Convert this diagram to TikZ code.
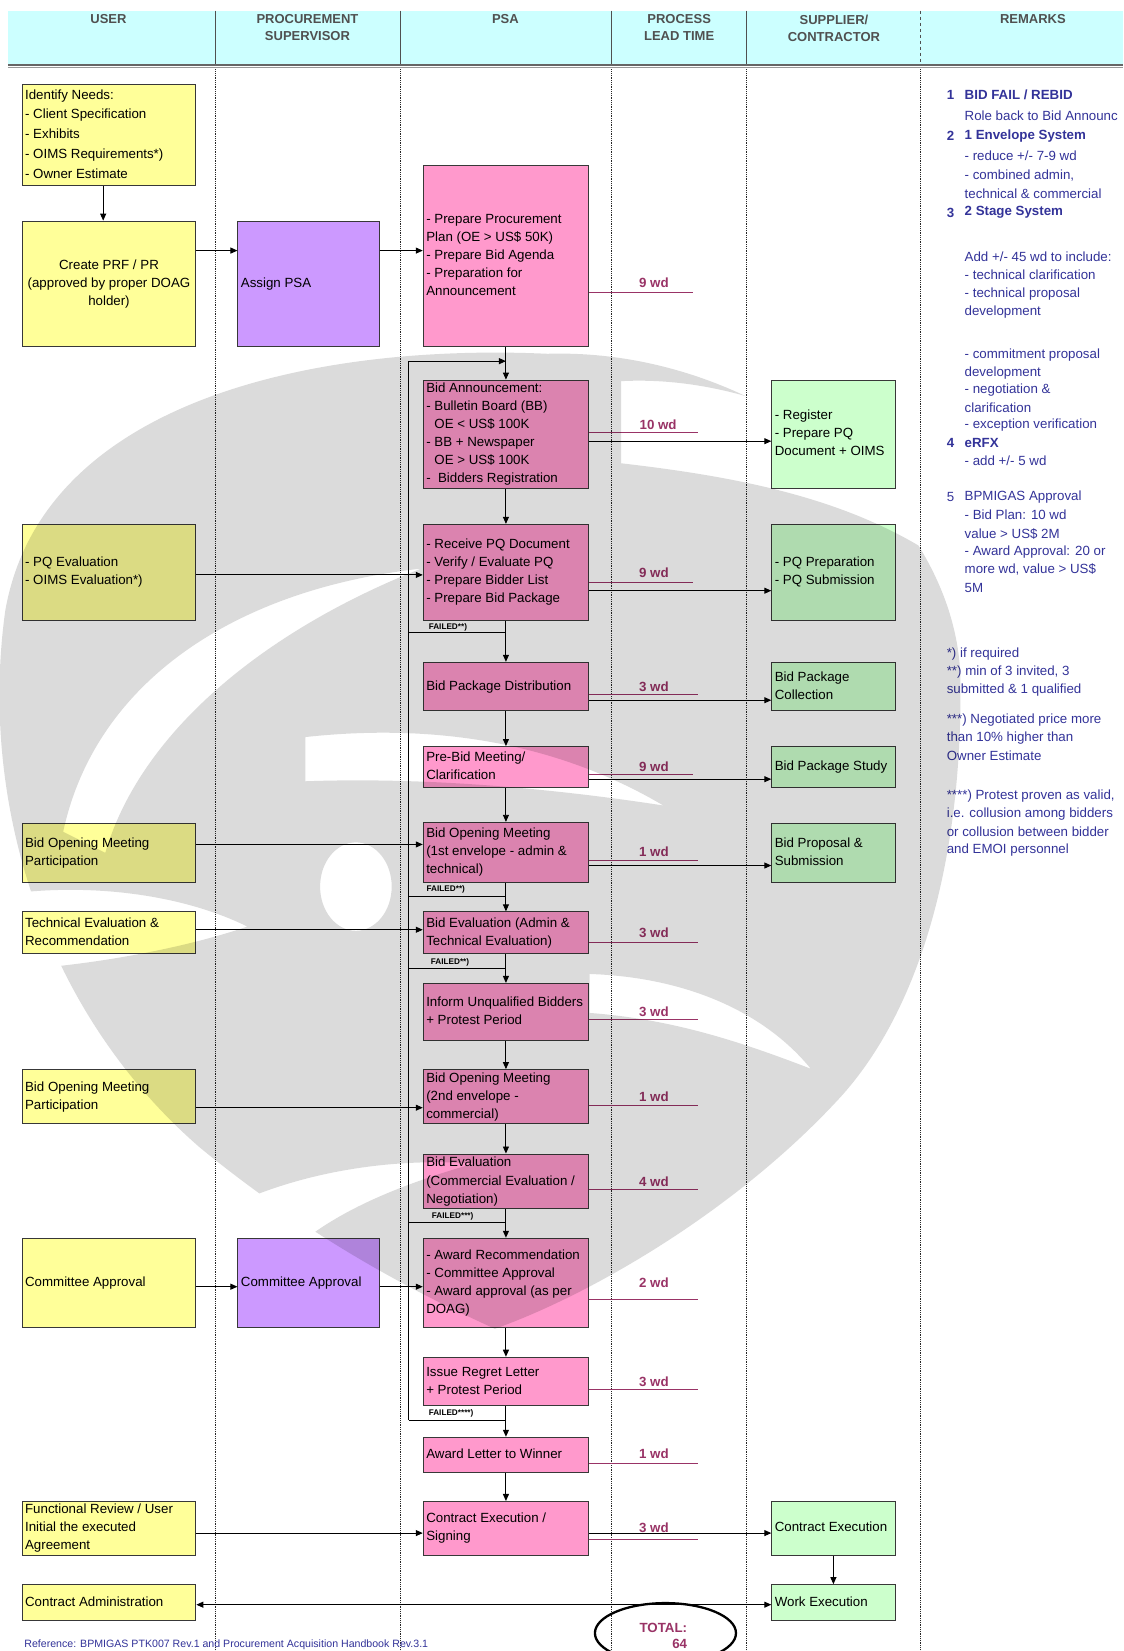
\documentclass[tikz,border=0pt]{standalone}
\usepackage{fontspec}
\setmainfont{Liberation Sans}
\usetikzlibrary{arrows.meta,calc,shapes.geometric}

\definecolor{hdrcyan}{HTML}{CCFFFF}
\definecolor{useryel}{HTML}{FFFF99}
\definecolor{suppurp}{HTML}{CC99FF}
\definecolor{psapink}{HTML}{FF99CC}
\definecolor{vendgrn}{HTML}{CCFFCC}
\definecolor{leadmag}{HTML}{993366}
\definecolor{remblue}{HTML}{333399}
\definecolor{hdrgrey}{HTML}{505050}
\definecolor{boxline}{HTML}{383838}

% \flowbox{name}{x1}{y1}{x2}{y2}{style}{l|c}{lines}
\newcommand\flowbox[8]{%
  \pgfmathsetmacro\flbw{(#4-#2)*1.0525}%
  \pgfmathsetmacro\flbh{(#5-#3)*1.0525}%
  \pgfmathsetmacro\fltw{(#4-#2)*1.0525-6}%
  \node[#6,minimum width=\flbw pt,minimum height=\flbh pt] (#1) at ({(#2+#4)/2},{(#3+#5)/2})
    {\makebox[\fltw pt][#7]{\begin{tabular}{@{}#7@{}}#8\end{tabular}}};}

\begin{document}
\begin{tikzpicture}[x=1.0525pt,y=-1.0525pt,
  boxbase/.style={draw=boxline,line width=1pt,inner xsep=3pt,inner ysep=0pt,
    font=\fontsize{13.3}{18}\selectfont},
  userbox/.style={boxbase,fill=useryel},
  supbox/.style={boxbase,fill=suppurp},
  psabox/.style={boxbase,fill=psapink},
  vendbox/.style={boxbase,fill=vendgrn},
  arr/.style={draw=black,line width=0.9pt,-{Triangle[length=7pt,width=6pt]}},
  dblarr/.style={draw=black,line width=0.9pt,{Triangle[length=7pt,width=6pt]}-{Triangle[length=7pt,width=6pt]}},
  loopline/.style={draw=black,line width=0.9pt},
  lead/.style={draw=leadmag,line width=1pt},
  leadlbl/.style={text=leadmag,font=\fontsize{13.3}{16}\selectfont\bfseries,inner sep=0pt},
  failtag/.style={font=\fontsize{8.2}{9}\selectfont\bfseries,inner sep=0pt,anchor=west},
  remark/.style={text=remblue,font=\fontsize{13.3}{16}\selectfont,inner sep=0pt,anchor=west},
  lane/.style={draw=black!85,line width=0.8pt,densely dotted},
  hdr/.style={text=hdrgrey,font=\fontsize{13}{17}\selectfont\bfseries,align=center,inner sep=0pt},
  emblem/.style={fill=black,fill opacity=0.14,even odd rule}
]
% page
\useasboundingbox (0,0) rectangle (1067,1568);
\fill[white] (0,0) rectangle (1067,1568);

% ---------- header band ----------
\fill[hdrcyan] (8,10) rectangle (1067,61);
\foreach \lx in {205,380,581,709}
  \draw[hdrgrey,line width=0.9pt] (\lx,10) -- (\lx,61);
\draw[hdrgrey,line width=0.9pt,dashed] (874,10) -- (874,61);
\draw[black!60,line width=1.3pt] (8,61.6) -- (1067,61.6);
\draw[black!40,line width=1pt] (8,64.2) -- (1067,64.2);

\node[hdr] (h-user) at (103,18) {USER};
\node[hdr] (h-sup)  at (292,26.5) {PROCUREMENT\\SUPERVISOR};
\node[hdr] (h-psa)  at (480,18) {PSA};
\node[hdr] (h-lead) at (645,26.5) {PROCESS\\LEAD TIME};
\node[hdr] (h-vend) at (792,26.5) {SUPPLIER/\\CONTRACTOR};
\node[hdr] (h-rem)  at (981,18) {REMARKS};

% ---------- swim-lane separators ----------
\foreach \lx in {205,380,581,709,874}
  \draw[lane] (\lx,66) -- (\lx,1568);

% ---------- USER lane ----------
\flowbox{idn}{21}{80}{186}{176}{userbox,font=\fontsize{13.3}{19.8}\selectfont}{l}{Identify Needs:\\- Client Specification\\- Exhibits\\- OIMS Requirements*)\\- Owner Estimate}
\flowbox{prf}{21}{210}{186}{329}{userbox}{c}{Create PRF / PR\\(approved by proper DOAG\\holder)}
\flowbox{pqe}{21}{498}{186}{589}{userbox}{l}{- PQ Evaluation\\- OIMS Evaluation*)}
\flowbox{bomp1}{21}{782}{186}{838}{userbox}{l}{Bid Opening Meeting\\Participation}
\flowbox{ter}{21}{866}{186}{906}{userbox}{l}{Technical Evaluation \&\\Recommendation}
\flowbox{bomp2}{21}{1016}{186}{1067}{userbox}{l}{Bid Opening Meeting\\Participation}
\flowbox{cau}{21}{1176}{186}{1261}{userbox}{l}{Committee Approval}
\flowbox{fr}{21}{1426}{186}{1477}{userbox}{l}{Functional Review / User\\Initial the executed\\Agreement}
\flowbox{ca}{21}{1505}{186}{1539}{userbox}{l}{Contract Administration}

% ---------- PROCUREMENT SUPERVISOR lane ----------
\flowbox{apsa}{226}{210}{360}{329}{supbox}{l}{Assign PSA}
\flowbox{cas}{226}{1176}{360}{1261}{supbox}{l}{Committee Approval}

% ---------- PSA lane ----------
\flowbox{pp}{402}{157}{559}{329}{psabox}{l}{- Prepare Procurement\\Plan (OE > US\$ 50K)\\- Prepare Bid Agenda\\- Preparation for\\Announcement}
\flowbox{ba}{402}{361}{559}{464}{psabox}{l}{Bid Announcement:\\- Bulletin Board (BB)\\\phantom{- }OE < US\$ 100K\\- BB + Newspaper\\\phantom{- }OE > US\$ 100K\\-\ \ Bidders Registration}
\flowbox{rpq}{402}{498}{559}{589}{psabox}{l}{- Receive PQ Document\\- Verify / Evaluate PQ\\- Prepare Bidder List\\- Prepare Bid Package}
\flowbox{bpd}{402}{629}{559}{675}{psabox}{l}{Bid Package Distribution}
\flowbox{pbm}{402}{709}{559}{748}{psabox}{l}{Pre-Bid Meeting/\\Clarification}
\flowbox{bom1}{402}{781}{559}{838}{psabox}{l}{Bid Opening Meeting\\(1st envelope - admin \&\\technical)}
\flowbox{beat}{402}{866}{559}{906}{psabox}{l}{Bid Evaluation (Admin \&\\Technical Evaluation)}
\flowbox{iub}{402}{934}{559}{988}{psabox}{l}{Inform Unqualified Bidders\\+ Protest Period}
\flowbox{bom2}{402}{1016}{559}{1067}{psabox}{l}{Bid Opening Meeting\\(2nd envelope -\\commercial)}
\flowbox{bec}{402}{1096}{559}{1148}{psabox}{l}{Bid Evaluation\\(Commercial Evaluation /\\Negotiation)}
\flowbox{ar}{402}{1176}{559}{1261}{psabox}{l}{- Award Recommendation\\- Committee Approval\\- Award approval (as per\\DOAG)}
\flowbox{irl}{402}{1289}{559}{1335}{psabox}{l}{Issue Regret Letter\\+ Protest Period}
\flowbox{alw}{402}{1365}{559}{1398}{psabox}{l}{Award Letter to Winner}
\flowbox{ces}{402}{1426}{559}{1477}{psabox}{l}{Contract Execution /\\Signing}

% ---------- SUPPLIER / CONTRACTOR lane ----------
\flowbox{reg}{733}{361}{850}{464}{vendbox}{l}{- Register\\- Prepare PQ\\Document + OIMS}
\flowbox{pqp}{733}{498}{850}{589}{vendbox}{l}{- PQ Preparation\\- PQ Submission}
\flowbox{bpc}{733}{629}{850}{675}{vendbox}{l}{Bid Package\\Collection}
\flowbox{bps}{733}{709}{850}{748}{vendbox}{l}{Bid Package Study}
\flowbox{bpr}{733}{782}{850}{838}{vendbox}{l}{Bid Proposal \&\\Submission}
\flowbox{ce}{733}{1426}{850}{1477}{vendbox}{l}{Contract Execution}
\flowbox{we}{733}{1505}{850}{1539}{vendbox}{l}{Work Execution}

% ---------- helper levels ----------
\coordinate (xneeds) at (98,0);
\foreach \yy in {238,419,546,561,665,740,802,822,883,1052,1222,1456,1524}
  \coordinate (y\yy) at (0,\yy);

% ---------- main flow ----------
\draw[arr] (idn.south -| xneeds) -- (prf.north -| xneeds);
\draw[arr] (prf.east |- y238) -- (apsa.west |- y238);
\draw[arr] (apsa.east |- y238) -- (pp.west |- y238);
\draw[arr] (pp.south) -- (ba.north);
\draw[arr] (ba.south) -- (rpq.north);
\draw[arr] (rpq.south) -- (bpd.north);
\draw[arr] (bpd.south) -- (pbm.north);
\draw[arr] (pbm.south) -- (bom1.north);
\draw[arr] (bom1.south) -- (beat.north);
\draw[arr] (beat.south) -- (iub.north);
\draw[arr] (iub.south) -- (bom2.north);
\draw[arr] (bom2.south) -- (bec.north);
\draw[arr] (bec.south) -- (ar.north);
\draw[arr] (ar.south) -- (irl.north);
\draw[arr] (irl.south) -- (alw.north);
\draw[arr] (alw.south) -- (ces.north);
\draw[arr] (ce.south) -- (we.north);

% user inputs into the PSA lane
\draw[arr] (pqe.east |- y546) -- (rpq.west |- y546);
\draw[arr] (bomp1.east |- y802) -- (bom1.west |- y802);
\draw[arr] (ter.east |- y883) -- (beat.west |- y883);
\draw[arr] (bomp2.east |- y1052) -- (bom2.west |- y1052);
\draw[arr] (cau.east |- y1222) -- (cas.west |- y1222);
\draw[arr] (cas.east |- y1222) -- (ar.west |- y1222);
\draw[arr] (fr.east |- y1456) -- (ces.west |- y1456);
\draw[dblarr] (ca.east |- y1524) -- (we.west |- y1524);

% PSA outputs to suppliers
\draw[arr] (ba.east |- y419) -- (reg.west |- y419);
\draw[arr] (rpq.east |- y561) -- (pqp.west |- y561);
\draw[arr] (bpd.east |- y665) -- (bpc.west |- y665);
\draw[arr] (pbm.east |- y740) -- (bps.west |- y740);
\draw[arr] (bom1.east |- y822) -- (bpr.west |- y822);
\draw[arr] (ces.east |- y1456) -- (ce.west |- y1456);

% ---------- rebid loop ----------
\coordinate (lp-top) at (388,343);
\coordinate (lp-bot) at (388,1349);
\coordinate (fl1) at (388,601);
\coordinate (fl2) at (388,851);
\coordinate (fl3) at (388,920);
\coordinate (fl4) at (388,1161);
\draw[loopline] (lp-top) -- (lp-bot);
\draw[arr] (lp-top) -- (lp-top -| pp.south);
\draw[loopline] (fl1) -- (fl1 -| rpq.south);
\draw[loopline] (fl2) -- (fl2 -| bom1.south);
\draw[loopline] (fl3) -- (fl3 -| beat.south);
\draw[loopline] (fl4) -- (fl4 -| bec.south);
\draw[loopline] (lp-bot) -- (lp-bot -| irl.south);
\node[failtag] (ft1) at (407,596) {FAILED**)};
\node[failtag] (ft2) at (405,845) {FAILED**)};
\node[failtag] (ft3) at (409,914) {FAILED**)};
\node[failtag] (ft4) at (410,1155) {FAILED***)};
\node[failtag] (ft5) at (407,1342) {FAILED****)};

% ---------- process lead time ----------
\foreach \ly/\lx/\ty/\tx/\lt [count=\i] in {
   278/658/269/621/{9 wd}, 411/663/403/625/{10 wd}, 553/658/544/621/{9 wd},
   660/663/652/621/{3 wd}, 736/658/728/621/{9 wd}, 817/663/809/621/{1 wd},
   895/663/886/621/{3 wd}, 968/663/961/621/{3 wd}, 1050/663/1042/621/{1 wd},
   1130/663/1122/621/{4 wd}, 1234/663/1218/621/{2 wd}, 1320/663/1312/621/{3 wd},
   1390/663/1381/621/{1 wd}, 1462/663/1451/621/{3 wd}}{
  \coordinate (ld\i) at (\lx,\ly);
  \draw[lead] (ld\i -| pp.east) -- (ld\i);
  \node[leadlbl] (lt\i) at (\tx,\ty) {\lt};
}

% ---------- remarks ----------
\foreach \ry/\rt [count=\i] in {90/1,129/2,202/3,421/4,472/5}
  \node[remark,font=\fontsize{13.3}{16}\selectfont\ifnum\i<5 \bfseries\fi] (rn\i) at (899,\ry) {\rt};
\foreach \ry/\rt [count=\i] in {
   90/{\bfseries BID FAIL / REBID},
   110/{Role back to Bid Announc},
   129/{\bfseries 1 Envelope System},
   148/{- reduce +/- 7-9 wd},
   167/{- combined admin,},
   184/{technical \& commercial},
   202/{\bfseries 2 Stage System},
   244/{Add +/- 45 wd to include:},
   261/{- technical clarification},
   279/{- technical proposal},
   296/{development},
   337/{- commitment proposal},
   354/{development},
   370/{- negotiation \&},
   387/{clarification},
   404/{- exception verification},
   421/{\bfseries eRFX},
   438/{- add +/- 5 wd},
   472/{BPMIGAS Approval},
   489/{- Bid Plan: 10 wd},
   507/{value > US\$ 2M},
   524/{- Award Approval: 20 or},
   541/{more wd, value > US\$},
   558/{5M}}
  \node[remark] (rt\i) at (916,\ry) {\rt};
\foreach \ry/\rt [count=\i] in {
   621/{*) if required},
   638/{**) min of 3 invited, 3},
   655/{submitted \& 1 qualified},
   684/{***) Negotiated price more},
   701/{than 10\% higher than},
   718/{Owner Estimate},
   756/{****) Protest proven as valid,},
   773/{i.e. collusion among bidders},
   790/{or collusion between bidder},
   807/{and EMOI personnel}}
  \node[remark] (nt\i) at (899,\ry) {\rt};

% ---------- total and reference ----------
\node[draw=black,line width=2.3pt,ellipse,minimum width=141pt,minimum height=60pt,inner sep=0pt] (total) at (632,1551) {};
\node[text=leadmag,font=\fontsize{13.3}{16}\selectfont\bfseries,align=right,inner sep=0pt] (totaltxt) at (630,1553.5) {TOTAL:\\64};
\node[text=remblue,font=\fontsize{10.6}{12}\selectfont,inner sep=0pt,anchor=west] (refnote) at (23,1562)
  {Reference: BPMIGAS PTK007 Rev.1 and Procurement Acquisition Handbook Rev.3.1};

% ---------- translucent emblem laid over the chart ----------
\begin{scope}
  \clip (520,336) .. controls (300,326) and (40,380) .. (5,580)
            .. controls (-20,760) and (40,960) .. (190,1090)
            .. controls (300,1180) and (400,1230) .. (470,1262)
            .. controls (560,1230) and (700,1150) .. (800,1040)
            .. controls (880,950) and (915,800) .. (912,640)
            .. controls (905,480) and (720,330) .. (520,336) -- cycle;
  \fill[emblem] (-20,300) rectangle (1100,1300)
    (338,842) ellipse [x radius=34, y radius=42]
    (60,790) .. controls (90,650) and (220,560) .. (400,540)
             .. controls (260,595) and (135,690) .. (100,810) -- cycle
    (560,925) .. controls (650,928) and (725,960) .. (770,1015)
              .. controls (705,990) and (640,968) .. (560,962) -- cycle
    (590,362) .. controls (720,355) and (880,430) .. (930,560)
              .. controls (840,480) and (720,455) .. (590,440) -- cycle
    (230,1140) .. controls (300,1110) and (380,1100) .. (450,1105)
               .. controls (380,1125) and (320,1150) .. (280,1185) -- cycle
    (290,700) .. controls (400,688) and (520,700) .. (630,765)
              .. controls (520,748) and (400,738) .. (290,742) -- cycle
    (0,850) .. controls (80,838) and (170,848) .. (235,880)
            .. controls (170,902) and (80,918) .. (0,922) -- cycle;
\end{scope}
\end{tikzpicture}
\end{document}
